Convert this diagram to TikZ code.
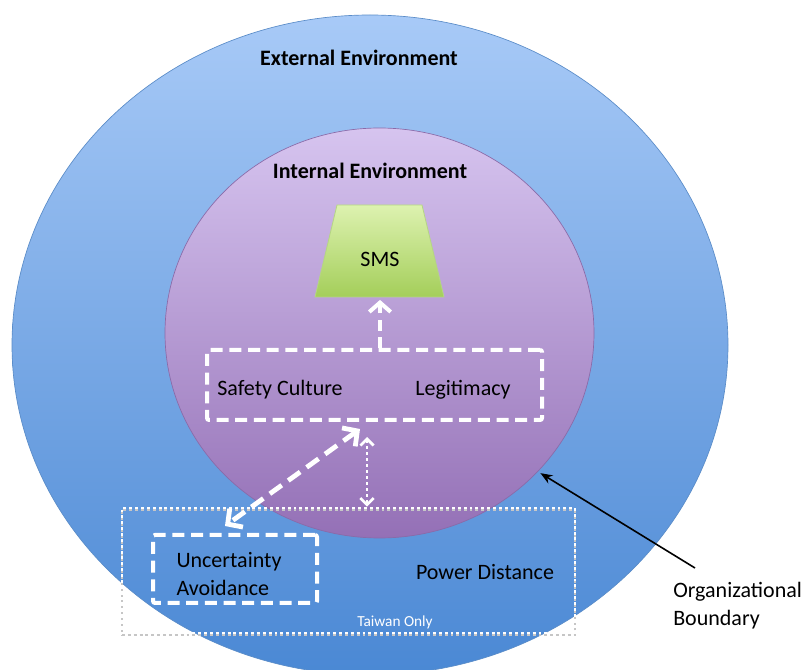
\documentclass[tikz,border=0pt]{standalone}
\usepackage{fontspec}
\setmainfont{Carlito}
\usetikzlibrary{shapes.geometric,arrows.meta,calc}
\definecolor{outerTop}{HTML}{A8CAF7}
\definecolor{outerBot}{HTML}{4A88D4}
\definecolor{outerLine}{HTML}{5A8CC8}
\definecolor{innerTop}{HTML}{D6C4EF}
\definecolor{innerBot}{HTML}{9470B6}
\definecolor{innerLine}{HTML}{8A6AA8}
\definecolor{smsTop}{HTML}{DDF2B0}
\definecolor{smsBot}{HTML}{A4CE5A}
\definecolor{smsLine}{HTML}{B5D585}
\begin{document}
\begin{tikzpicture}[x=0.75pt,y=-0.75pt,
  lbl/.style={font=\fontsize{16.5}{21}\selectfont, inner sep=0pt, text=black},
  boldlbl/.style={font=\fontsize{16.5}{21}\selectfont\bfseries, inner sep=0pt, text=black},
  dashbox/.style={draw=white, line width=3pt, dash pattern=on 9pt off 5pt, rounded corners=1.5pt, inner sep=0pt},
  dotbox/.style={draw=white, line width=2.2pt, dash pattern=on 2.2pt off 2.2pt, inner sep=0pt},
  chevboth/.style={{Straight Barb[length=8pt,width=17pt]}-{Straight Barb[length=8pt,width=17pt]}},
  chevup/.style={-{Straight Barb[length=7pt,width=16pt]}},
  chevdot/.style={{Straight Barb[length=5pt,width=10pt]}-{Straight Barb[length=5pt,width=10pt]}}
]
\useasboundingbox (0,0) rectangle (808,670);
\clip (0,0) rectangle (808,670);
\fill[white] (0,0) rectangle (808,670);

% circles
\node[ellipse, minimum width=537pt, minimum height=495pt, inner sep=0pt,
      top color=outerTop, bottom color=outerBot, draw=outerLine, line width=0.5pt]
      (outer) at (370,345) {};
\node[ellipse, minimum width=321.75pt, minimum height=307.5pt, inner sep=0pt,
      top color=innerTop, bottom color=innerBot, draw=innerLine, line width=0.5pt]
      (inner) at (379.5,333) {};

\node[boldlbl] (ext) at (359,58) {External Environment};
\node[boldlbl] (int) at (370,171) {Internal Environment};

% SMS trapezoid
\shade[top color=smsTop, bottom color=smsBot, draw=smsLine, line width=0.6pt]
  (337,205) -- (422,205) -- (444,297) -- (315,297) -- cycle;
\node[minimum width=96.75pt, minimum height=69pt, inner sep=0pt] (sms) at (380,251) {};
\node[lbl] (smst) at (380,259) {SMS};

% Safety culture box
\node[dashbox, minimum width=251.25pt, minimum height=52.5pt] (sl) at (374.5,385) {};
\node[lbl] (sc) at (280,390) {Safety Culture};
\node[lbl] (leg) at (463,390) {Legitimacy};

% Taiwan only box
\node[draw=gray!45, line width=2.2pt, dash pattern=on 2.2pt off 2.2pt, inner sep=0pt,
      minimum width=339.75pt, minimum height=93.75pt] (twsh) at (348.5,572.5) {};
\node[dotbox, minimum width=339.75pt, minimum height=93.75pt] (tw) at (348.5,570.5) {};
\node[font=\fontsize{11.5}{13}\selectfont, text=white, inner sep=0pt] (two) at (395,622) {Taiwan Only};
\node[lbl] (pd) at (485,572) {Power Distance};

% Uncertainty avoidance box
\node[dashbox, minimum width=123pt, minimum height=51pt] (ua) at (235,569) {};
\node[lbl, align=left] (uat) at (229,574) {Uncertainty\\Avoidance};

% arrows
\draw[white, line width=3pt, dash pattern=on 8pt off 5pt, chevup]
  (sms.south |- sl.north) -- ([yshift=-2pt]sms.south);
\draw[white, line width=3.6pt, dash pattern=on 11pt off 6pt, chevboth]
  ([shift={(-14.5,7)}]sl.south) -- ([shift={(-10,-7)}]ua.north);
\draw[white, line width=2pt, dash pattern=on 2pt off 2.5pt, chevdot]
  ([shift={(-7.5,15)}]sl.south) -- ([shift={(18.5,0)}]tw.north);

% organizational boundary
\node[lbl, align=left, anchor=west] (ob) at (673,606) {Organizational\\Boundary};
\coordinate (obtail) at (695,568);
\draw[black, line width=1.2pt, -{Stealth[length=9pt,width=7pt]}]
  (obtail) -- ([shift={(2,2)}]inner.-41.5);
\end{tikzpicture}
\end{document}
